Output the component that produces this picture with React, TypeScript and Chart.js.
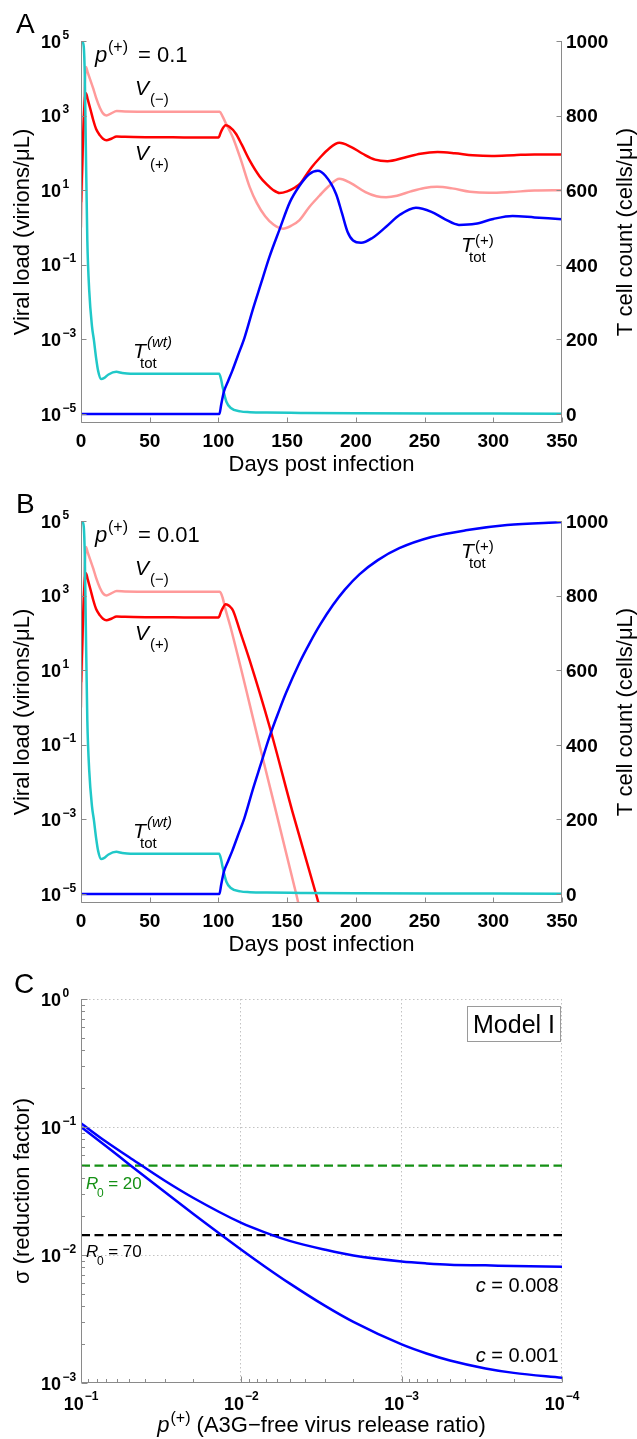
import React, { useEffect, useRef } from "react";
import { Chart, registerables } from "chart.js";

Chart.register(...registerables);

const FONT_FAMILY = "'Liberation Sans', Arial, Helvetica, sans-serif";
const f = (style: string, size: number) => `${style} ${size}px ${FONT_FAMILY}`;

const AXIS_GRAY = "#8a8a8a";
const GRID_GRAY = "#c2c2c2";
const RED = "#ff0000";
const PINK = "#ff9a9a";
const CYAN = "#20c8c8";
const BLUE = "#0000ff";
const GREEN = "#149014";

/* ---------------- Panels A & B (days post infection) ---------------- */
const DAY_TICKS = [0, 50, 100, 150, 200, 250, 300, 350];
const VIRAL_TICKS = [1e5, 1e3, 1e1, 1e-1, 1e-3, 1e-5];
const TCELL_TICKS = [0, 200, 400, 600, 800, 1000];
const VIRAL_MIN = 5.74e-6;
const TCELL_MIN = -24.1;

// acute phase, days 0-100 (same in A and B)
const EARLY_DAYS = [0, 0.8, 1.6, 2.4, 3.0, 3.6, 5, 7, 9, 11, 13.8, 16, 18.5, 22, 26, 32, 50, 75, 100];
const EARLY_V_MINUS = [1.0, 16, 316, 3200, 11000, 20000, 14000, 8500, 5200, 3000, 1600, 1150, 1000, 1150, 1320, 1290, 1260, 1260, 1260];
const EARLY_V_PLUS = [4.8, 40, 316, 1585, 3160, 4000, 2630, 1410, 740, 437, 295, 240, 219, 240, 275, 269, 263, 260, 257];

// T_tot^(wt) (cells/uL), same in A and B
const TWT_DAYS = [0, 1, 2, 2.8, 3.5, 4.6, 6, 8, 9.4, 11, 12.5, 14.6, 17, 20, 25.7, 30, 36, 60, 100.5, 102, 103, 105.8, 109, 116, 123, 135, 160, 200, 275, 350];
const TWT_CELLS = [1000, 998, 985, 900, 720, 466, 330, 235, 198, 150, 115, 94, 97, 106, 113, 110, 108, 108, 108, 92, 73, 33, 16, 7, 5, 3.8, 3, 2, 1.5, 1];

// T_tot^(+) start (same in A and B)
const TPLUS_START_DAYS = [0, 100.7, 102, 104, 107, 110, 114, 119, 125, 131, 137, 144.5];
const TPLUS_START_CELLS = [0, 0, 25, 60, 88, 115, 155, 205, 280, 350, 420, 495];

// Panel A (p = 0.1) after day 100
const A_VM_DAYS = [101, 103, 106, 110.5, 116, 122.7, 128, 134, 140, 147, 153, 159, 166, 173.5, 180, 188, 196, 207, 215, 222, 230, 240, 250, 259, 270, 283, 297, 312, 330, 350];
const A_VM = [1260, 955, 562, 260, 71, 12.3, 4.5, 2.0, 1.2, 0.93, 1.12, 1.58, 3.5, 7.1, 12.6, 20.4, 15.8, 8.9, 6.9, 6.5, 7.1, 9.3, 11.5, 12.3, 11.2, 9.1, 8.5, 8.9, 9.8, 10];
const A_VP_DAYS = [102, 105.3, 108, 112.6, 117, 122.7, 130, 135, 140, 144.5, 150, 156, 160, 164, 168, 173.5, 180, 188, 196, 205, 214, 223, 235, 247, 259.5, 272, 285, 299, 315, 330, 350];
const A_VP = [380, 550, 500, 331, 166, 63, 23.4, 14.5, 10, 8.4, 9.3, 12, 15.8, 26, 42, 72, 126, 186, 148, 95, 66, 60, 74, 95, 105, 98, 87, 83, 87, 91, 91];
const A_TP_DAYS = [152, 159, 166, 172.3, 178, 185.6, 190, 194, 198, 203.8, 212, 222, 232, 243.7, 255, 265, 275, 287, 300, 314, 330, 350];
const A_TP_CELLS = [568, 612, 643, 652, 638, 590, 537, 488, 465, 459, 472, 502, 534, 553, 542, 522, 507, 510, 523, 531, 527, 522];

// Panel B (p = 0.01) after day 100
const B_VM_DAYS = [101, 103, 105, 108.7, 130.2, 156.6, 162];
const B_VM = [1260, 890, 447, 148, 0.089, 1e-5, 1.4e-6];
const B_VP_DAYS = [102, 105.3, 108, 110.6, 115.4, 122.7, 137.2, 154.2, 171, 176];
const B_VP = [380, 590, 525, 400, 120, 18.6, 0.31, 1.45e-3, 1e-5, 2.2e-6];
const B_TP_DAYS = [149.3, 159, 166.3, 174, 183.2, 192, 202.6, 216, 231.6, 255, 280, 310, 350];
const B_TP_CELLS = [540, 620, 672, 722, 774, 816, 857, 895, 927, 957, 975, 989, 997];

/* ---------------- Panel C ---------------- */
const C_X_TICKS = [1e-1, 1e-2, 1e-3, 1e-4];
const C_Y_TICKS = [1, 1e-1, 1e-2, 1e-3];
const C_P = [1e-1, 7e-2, 5e-2, 3e-2, 2e-2, 1e-2, 7e-3, 5e-3, 3e-3, 2e-3, 1e-3, 7e-4, 5e-4, 3e-4, 2e-4, 1e-4];
const C_SIGMA_C008 = [0.107, 0.077, 0.058, 0.038, 0.028, 0.0178, 0.0149, 0.0129, 0.011, 0.0099, 0.0089, 0.0086, 0.0084, 0.0083, 0.0082, 0.0081];
const C_SIGMA_C001 = [0.1, 0.071, 0.051, 0.031, 0.021, 0.011, 0.008, 0.006, 0.004, 0.003, 0.002, 0.0017, 0.0015, 0.0013, 0.0012, 0.0011];
const R0_VALUES = [20, 70];
const R0_SIGMA = [0.05, 0.0143];

type Pt = { x: number; y: number };
const zip = (xs: number[], ys: number[]): Pt[] => xs.map((x, i) => ({ x, y: ys[i] }));

function lineDs(data: Pt[], color: string, axis: string, order: number, extra: any = {}) {
  return {
    data,
    borderColor: color,
    backgroundColor: color,
    borderWidth: 2.5,
    pointRadius: 0,
    pointHoverRadius: 0,
    fill: false,
    cubicInterpolationMode: "monotone",
    yAxisID: axis,
    order,
    ...extra,
  };
}

function txt(ctx: CanvasRenderingContext2D, s: string, x: number, y: number, font: string, color = "#000", align: CanvasTextAlign = "left") {
  ctx.font = font;
  ctx.fillStyle = color;
  ctx.textAlign = align;
  ctx.textBaseline = "alphabetic";
  ctx.fillText(s, x, y);
}

function rotText(ctx: CanvasRenderingContext2D, s: string, x: number, y: number, font: string) {
  ctx.save();
  ctx.translate(x, y);
  ctx.rotate(-Math.PI / 2);
  txt(ctx, s, 0, 0, font, "#000", "center");
  ctx.restore();
}

function expText(v: number) {
  const e = Math.round(Math.log10(v));
  return e < 0 ? "\u2212" + Math.abs(e) : String(e);
}

function timeDecor(letter: string, pValue: string, tPlus: { x: number; y: number }) {
  return {
    id: "timeDecor" + letter,
    afterDraw(chart: any) {
      const ctx: CanvasRenderingContext2D = chart.ctx;
      const { left, right, top, bottom } = chart.chartArea;
      const sx = chart.scales.x;
      const sl = chart.scales.yL;
      const sr = chart.scales.yR;
      ctx.save();
      ctx.setLineDash([]);
      ctx.strokeStyle = AXIS_GRAY;
      ctx.lineWidth = 1;
      const L = Math.round(left) + 0.5;
      const R = Math.round(right) - 0.5;
      const B = Math.round(bottom) - 0.5;
      ctx.beginPath();
      ctx.moveTo(L, top);
      ctx.lineTo(L, B);
      ctx.lineTo(R, B);
      ctx.lineTo(R, top);
      DAY_TICKS.forEach((t) => {
        const px = Math.round(sx.getPixelForValue(t)) + 0.5;
        ctx.moveTo(px, B);
        ctx.lineTo(px, B - 5);
      });
      VIRAL_TICKS.forEach((v) => {
        const py = Math.round(sl.getPixelForValue(v)) + 0.5;
        ctx.moveTo(L, py);
        ctx.lineTo(L + 5, py);
      });
      TCELL_TICKS.forEach((v) => {
        const py = Math.round(sr.getPixelForValue(v)) + 0.5;
        ctx.moveTo(R, py);
        ctx.lineTo(R - 5, py);
      });
      ctx.stroke();

      DAY_TICKS.forEach((t) => txt(ctx, String(t), sx.getPixelForValue(t), bottom + 24, f("bold", 19), "#000", "center"));
      VIRAL_TICKS.forEach((v) => {
        const py = sl.getPixelForValue(v);
        txt(ctx, "10", 61, py + 6.5, f("bold", 18), "#000", "right");
        txt(ctx, expText(v), 62.5, py - 2.5, f("bold", 12));
      });
      TCELL_TICKS.forEach((v) => txt(ctx, String(v), 566, sr.getPixelForValue(v) + 6.8, f("bold", 19)));

      txt(ctx, "Days post infection", (left + right) / 2, bottom + 48, f("normal", 22), "#000", "center");
      rotText(ctx, "Viral load (virions/\u03BCL)", 29, (top + bottom) / 2, f("normal", 22));
      rotText(ctx, "T cell count (cells/\u03BCL)", 632, (top + bottom) / 2, f("normal", 22));

      txt(ctx, letter, 16, 33, f("normal", 28));
      // p(+) = value
      txt(ctx, "p", 95, 62, f("italic", 22));
      txt(ctx, "(+)", 108, 52, f("normal", 16));
      txt(ctx, "= " + pValue, 138, 62, f("normal", 22));
      // V(-) and V(+)
      txt(ctx, "V", 135, 95, f("italic", 21));
      txt(ctx, "(\u2212)", 150, 104, f("normal", 15));
      txt(ctx, "V", 135, 160, f("italic", 21));
      txt(ctx, "(+)", 150, 169, f("normal", 15));
      // T_tot^(wt)
      txt(ctx, "T", 133, 358, f("italic", 21));
      txt(ctx, "(wt)", 147, 346.5, f("italic", 15));
      txt(ctx, "tot", 140, 368, f("normal", 15));
      // T_tot^(+)
      txt(ctx, "T", tPlus.x, tPlus.y, f("italic", 21));
      txt(ctx, "(+)", tPlus.x + 14, tPlus.y - 7.5, f("normal", 15));
      txt(ctx, "tot", tPlus.x + 8, tPlus.y + 10, f("normal", 15));
      ctx.restore();
    },
  };
}

function timeConfig(panel: "A" | "B"): any {
  const isA = panel === "A";
  const pink = zip([...EARLY_DAYS, ...(isA ? A_VM_DAYS : B_VM_DAYS)], [...EARLY_V_MINUS, ...(isA ? A_VM : B_VM)]);
  const red = zip([...EARLY_DAYS, ...(isA ? A_VP_DAYS : B_VP_DAYS)], [...EARLY_V_PLUS, ...(isA ? A_VP : B_VP)]);
  const cyan = zip(TWT_DAYS, TWT_CELLS);
  const blue = zip([...TPLUS_START_DAYS, ...(isA ? A_TP_DAYS : B_TP_DAYS)], [...TPLUS_START_CELLS, ...(isA ? A_TP_CELLS : B_TP_CELLS)]);
  return {
    type: "line",
    data: {
      datasets: [
        lineDs(blue, BLUE, "yR", 0),
        lineDs(cyan, CYAN, "yR", 1),
        lineDs(red, RED, "yL", 2),
        lineDs(pink, PINK, "yL", 3),
      ],
    },
    options: {
      responsive: false,
      animation: false,
      devicePixelRatio: 1,
      events: [],
      layout: { padding: { left: 81, right: 75, top: 41, bottom: 57 } },
      plugins: { legend: { display: false }, tooltip: { enabled: false } },
      scales: {
        x: { type: "linear", min: 0, max: 350, display: false },
        yL: { type: "logarithmic", position: "left", min: VIRAL_MIN, max: 1e5, display: false },
        yR: { type: "linear", position: "right", min: TCELL_MIN, max: 1000, display: false },
      },
    },
    plugins: [timeDecor(panel, isA ? "0.1" : "0.01", isA ? { x: 461, y: 252 } : { x: 461, y: 78 })],
  };
}

const cDecor = {
  id: "cDecor",
  beforeDatasetsDraw(chart: any) {
    const ctx: CanvasRenderingContext2D = chart.ctx;
    const { left, right, top, bottom } = chart.chartArea;
    const sx = chart.scales.x;
    const sy = chart.scales.y;
    ctx.save();
    ctx.strokeStyle = GRID_GRAY;
    ctx.lineWidth = 1;
    ctx.setLineDash([1.5, 2.5]);
    ctx.beginPath();
    [1e-2, 1e-3, 1e-4].forEach((v) => {
      const px = Math.round(sx.getPixelForValue(v)) - 0.5;
      ctx.moveTo(px, top);
      ctx.lineTo(px, bottom);
    });
    [1, 1e-1, 1e-2].forEach((v) => {
      const py = Math.round(sy.getPixelForValue(v)) + 0.5;
      ctx.moveTo(left, py);
      ctx.lineTo(right, py);
    });
    ctx.stroke();
    ctx.restore();
  },
  afterDraw(chart: any) {
    const ctx: CanvasRenderingContext2D = chart.ctx;
    const { left, right, top, bottom } = chart.chartArea;
    const sx = chart.scales.x;
    const sy = chart.scales.y;
    ctx.save();
    ctx.setLineDash([]);
    ctx.strokeStyle = AXIS_GRAY;
    ctx.lineWidth = 1;
    const L = Math.round(left) + 0.5;
    const B = Math.round(bottom) - 0.5;
    ctx.beginPath();
    ctx.moveTo(L, top);
    ctx.lineTo(L, B);
    ctx.lineTo(right, B);
    // y ticks
    for (let e = -3; e <= 0; e++) {
      const py = Math.round(sy.getPixelForValue(Math.pow(10, e))) + 0.5;
      ctx.moveTo(L, py);
      ctx.lineTo(L + 6, py);
      if (e < 0) {
        for (let m = 2; m <= 9; m++) {
          const q = Math.round(sy.getPixelForValue(m * Math.pow(10, e))) + 0.5;
          ctx.moveTo(L, q);
          ctx.lineTo(L + 3.5, q);
        }
      }
    }
    // x ticks
    for (let e = -4; e <= -1; e++) {
      const px = Math.round(sx.getPixelForValue(Math.pow(10, e))) + 0.5;
      ctx.moveTo(px, B);
      ctx.lineTo(px, B - 6);
      if (e < -1) {
        for (let m = 2; m <= 9; m++) {
          const q = Math.round(sx.getPixelForValue(m * Math.pow(10, e))) + 0.5;
          ctx.moveTo(q, B);
          ctx.lineTo(q, B - 3.5);
        }
      }
    }
    ctx.stroke();

    C_Y_TICKS.forEach((v) => {
      const py = sy.getPixelForValue(v);
      txt(ctx, "10", 61, py + 6.5, f("bold", 18), "#000", "right");
      txt(ctx, expText(v), 62.5, py - 2.5, f("bold", 12));
    });
    C_X_TICKS.forEach((v) => {
      const px = sx.getPixelForValue(v);
      ctx.font = f("bold", 18);
      const w10 = ctx.measureText("10").width;
      ctx.font = f("bold", 12);
      const we = ctx.measureText(expText(v)).width;
      const start = px - (w10 + 1 + we) / 2;
      txt(ctx, "10", start, bottom + 27, f("bold", 18));
      txt(ctx, expText(v), start + w10 + 1, bottom + 17, f("bold", 12));
    });

    // axis titles
    rotText(ctx, "\u03C3 (reduction factor)", 29, (top + bottom) / 2, f("normal", 22));
    ctx.font = f("italic", 22);
    const wp = ctx.measureText("p").width;
    ctx.font = f("normal", 16);
    const ws = ctx.measureText("(+)").width;
    ctx.font = f("normal", 22);
    const rest = " (A3G\u2212free virus release ratio)";
    const wr = ctx.measureText(rest).width;
    const x0 = (left + right) / 2 - (wp + 1 + ws + wr) / 2;
    txt(ctx, "p", x0, bottom + 49, f("italic", 22));
    txt(ctx, "(+)", x0 + wp + 1, bottom + 40, f("normal", 16));
    txt(ctx, rest, x0 + wp + 1 + ws, bottom + 49, f("normal", 22));

    txt(ctx, "C", 14, 33, f("normal", 28));

    // Model I box
    ctx.fillStyle = "#fff";
    ctx.fillRect(467.5, 46.5, 93, 35);
    ctx.strokeStyle = "#9a9a9a";
    ctx.strokeRect(467.5, 46.5, 93, 35);
    txt(ctx, "Model I", 514, 73, f("normal", 25), "#000", "center");

    // R0 labels
    const r0Colors = [GREEN, "#000"];
    const r0Base = [229.3, 296.7];
    R0_VALUES.forEach((r, i) => {
      txt(ctx, "R", 86, r0Base[i], f("italic", 17), r0Colors[i]);
      txt(ctx, "0", 97, r0Base[i] + 8, f("normal", 12), r0Colors[i]);
      txt(ctx, " = " + r, 103.5, r0Base[i], f("normal", 17), r0Colors[i]);
    });

    // c labels (right aligned)
    [["0.008", 331.7], ["0.001", 401.7]].forEach(([val, y]) => {
      const s = " = " + val;
      ctx.font = f("normal", 20);
      const w = ctx.measureText(s).width;
      txt(ctx, s, 558.5, y as number, f("normal", 20), "#000", "right");
      txt(ctx, "c", 558.5 - w, y as number, f("italic", 20), "#000", "right");
    });
    ctx.restore();
  },
};

function cConfig(): any {
  return {
    type: "line",
    data: {
      datasets: [
        lineDs(zip(C_P, C_SIGMA_C008), BLUE, "y", 0),
        lineDs(zip(C_P, C_SIGMA_C001), BLUE, "y", 1),
        lineDs(zip([C_P[0], C_P[C_P.length - 1]], [R0_SIGMA[0], R0_SIGMA[0]]), GREEN, "y", 2, { borderDash: [9, 4.5], borderWidth: 2.2, cubicInterpolationMode: "default", tension: 0 }),
        lineDs(zip([C_P[0], C_P[C_P.length - 1]], [R0_SIGMA[1], R0_SIGMA[1]]), "#000", "y", 3, { borderDash: [9, 4.5], borderWidth: 2.2, cubicInterpolationMode: "default", tension: 0 }),
      ],
    },
    options: {
      responsive: false,
      animation: false,
      devicePixelRatio: 1,
      events: [],
      layout: { padding: { left: 81, right: 75, top: 39, bottom: 56 } },
      plugins: { legend: { display: false }, tooltip: { enabled: false } },
      scales: {
        x: { type: "logarithmic", min: 1e-4, max: 1e-1, reverse: true, display: false },
        y: { type: "logarithmic", min: 1e-3, max: 1, display: false },
      },
    },
    plugins: [cDecor],
  };
}

function ChartCanvas({ make, top, height }: { make: () => any; top: number; height: number }) {
  const ref = useRef<HTMLCanvasElement>(null);
  useEffect(() => {
    const chart = new Chart(ref.current as HTMLCanvasElement, make());
    return () => chart.destroy();
  }, []);
  return (
    <canvas
      ref={ref}
      width={637}
      height={height}
      style={{ position: "absolute", left: 0, top, width: 637, height, display: "block" }}
    />
  );
}

export default function App() {
  return (
    <div style={{ position: "absolute", left: 0, top: 0, width: 637, height: 1439, background: "#fff", overflow: "hidden" }}>
      <ChartCanvas make={() => timeConfig("A")} top={0} height={480} />
      <ChartCanvas make={() => timeConfig("B")} top={480} height={480} />
      <ChartCanvas make={cConfig} top={960} height={479} />
    </div>
  );
}
